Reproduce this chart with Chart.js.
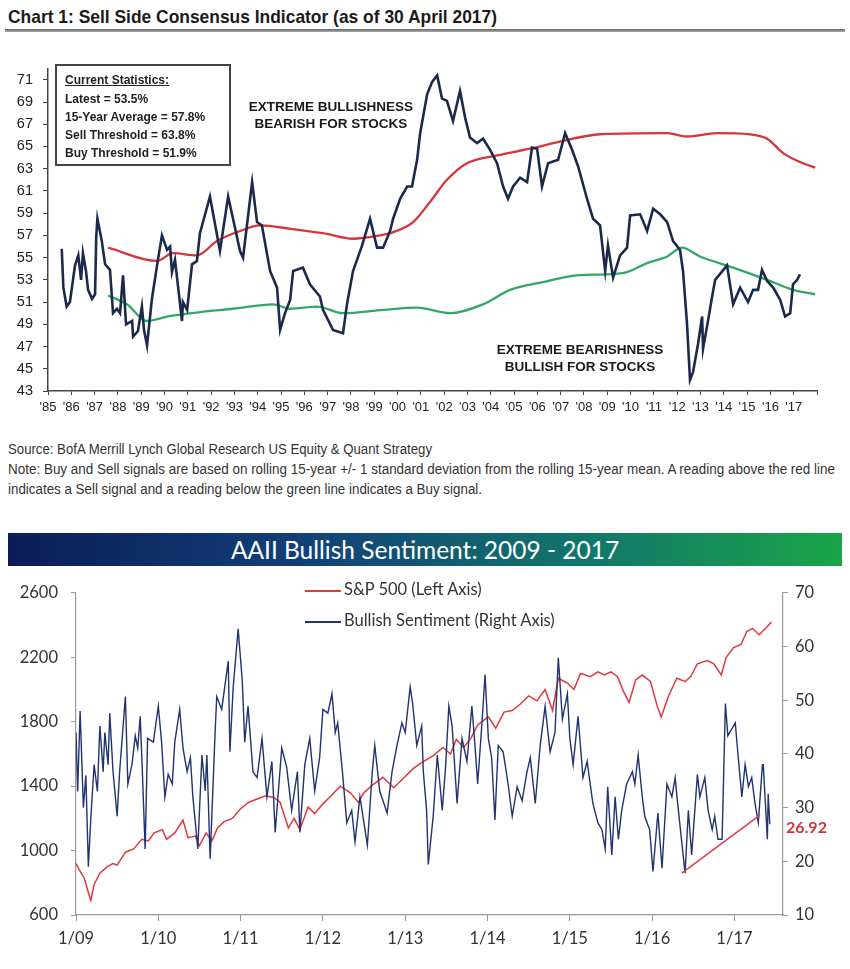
<!DOCTYPE html>
<html><head><meta charset="utf-8">
<script src="https://cdn.jsdelivr.net/npm/chart.js@4.4.0/dist/chart.umd.min.js"></script>
<style>
body{margin:0;background:#fff;width:850px;height:969px;position:relative;overflow:hidden;font-family:"Liberation Sans",Arial,sans-serif;color:#222;}
.abs{position:absolute;white-space:nowrap;}
.fit{transform-origin:0 0;}
#title{left:8px;top:6px;font-weight:bold;font-size:19px;color:#1a1a1a;}
#rule{left:5px;top:29px;width:840px;height:3px;background:linear-gradient(#666,#aaa);}
#stats{left:55px;top:64px;width:172px;height:98px;border:2px solid #444;font-weight:bold;font-size:12px;color:#222;}
#stats div{position:absolute;left:8px;}
.ann{font-weight:bold;font-size:13.5px;text-align:center;line-height:17px;color:#1a1a1a;}
.note{font-size:14px;color:#333;left:8px;}
#banner{left:8px;top:533px;width:834px;height:33px;background:linear-gradient(to right,#0b1d58 0%,#123f78 35%,#12786a 70%,#1aa448 100%);color:#fff;font-family:Lato,sans-serif;font-size:24.5px;text-align:center;line-height:33px;}
.leg{font-family:Lato,sans-serif;font-size:16.5px;color:#333;}
.legline{height:2px;width:36px;}
</style></head>
<body>
<div id="title" class="abs fit" data-w="489">Chart 1: Sell Side Consensus Indicator (as of 30 April 2017)</div>
<div id="rule" class="abs"></div>

<div class="abs" style="left:0;top:50px;width:850px;height:380px;"><canvas id="c1" width="850" height="380"></canvas></div>

<div id="stats" class="abs">
  <div style="top:7px;text-decoration:underline;">Current Statistics:</div>
  <div style="top:26px;">Latest = 53.5%</div>
  <div style="top:44px;">15-Year Average = 57.8%</div>
  <div style="top:62px;">Sell Threshold = 63.8%</div>
  <div style="top:80px;">Buy Threshold = 51.9%</div>
</div>
<div class="abs ann" style="left:231px;top:98px;width:200px;">EXTREME BULLISHNESS<br>BEARISH FOR STOCKS</div>
<div class="abs ann" style="left:480px;top:341px;width:200px;">EXTREME BEARISHNESS<br>BULLISH FOR STOCKS</div>

<div class="abs note fit" data-w="424" style="top:441px;">Source: BofA Merrill Lynch Global Research US Equity &amp; Quant Strategy</div>
<div class="abs note fit" data-w="827" style="top:461px;">Note: Buy and Sell signals are based on rolling 15-year +/- 1 standard deviation from the rolling 15-year mean. A reading above the red line</div>
<div class="abs note fit" data-w="474" style="top:481px;">indicates a Sell signal and a reading below the green line indicates a Buy signal.</div>

<div id="banner" class="abs">AAII Bullish Sentiment: 2009 - 2017</div>

<div class="abs" style="left:0;top:570px;width:850px;height:390px;"><canvas id="c2" width="850" height="390"></canvas></div>

<div class="abs legline" style="left:305px;top:590px;background:#e0383c;"></div>
<div class="abs leg" style="left:344px;top:579px;">S&amp;P 500 (Left Axis)</div>
<div class="abs legline" style="left:305px;top:621px;background:#1f3470;"></div>
<div class="abs leg" style="left:344px;top:610px;">Bullish Sentiment (Right Axis)</div>
<div class="abs" style="left:786px;top:817px;font-family:Lato,sans-serif;font-weight:bold;font-size:16px;color:#d8303a;">26.92</div>

<script>
document.querySelectorAll('.fit').forEach(el => {
  const w = el.getBoundingClientRect().width;
  el.style.transform = 'scaleX(' + (parseFloat(el.dataset.w) / w) + ')';
});

// ---------- Chart 1: Sell Side Consensus Indicator ----------
const indicatorYears = [1985.59,1985.66,1985.80,1985.94,1986.16,1986.30,1986.42,1986.50,1986.63,1986.72,1986.89,1987.02,1987.07,1987.12,1987.30,1987.45,1987.66,1987.79,1987.96,1988.09,1988.22,1988.35,1988.61,1988.65,1988.86,1989.03,1989.12,1989.25,1989.46,1989.68,1989.89,1990.11,1990.24,1990.32,1990.45,1990.75,1990.79,1990.97,1991.18,1991.39,1991.52,1991.95,1992.38,1992.73,1992.94,1993.24,1993.37,1993.76,1993.97,1994.18,1994.53,1994.83,1994.96,1995.17,1995.39,1995.52,1995.94,1996.24,1996.67,1996.80,1997.23,1997.66,1997.83,1998.09,1998.48,1998.82,1999.12,1999.38,1999.68,1999.81,2000.11,2000.41,2000.62,2000.84,2000.97,2001.27,2001.48,2001.70,2001.91,2002.12,2002.38,2002.68,2002.90,2003.11,2003.41,2003.67,2003.97,2004.27,2004.53,2004.74,2004.96,2005.26,2005.56,2005.77,2005.99,2006.20,2006.46,2006.89,2007.19,2007.49,2007.75,2008.13,2008.39,2008.69,2008.91,2009.03,2009.25,2009.55,2009.85,2009.98,2010.41,2010.71,2010.97,2011.27,2011.57,2011.82,2012.12,2012.25,2012.42,2012.55,2012.68,2012.90,2013.07,2013.11,2013.33,2013.50,2013.63,2014.14,2014.40,2014.70,2015.04,2015.26,2015.47,2015.64,2015.86,2016.12,2016.42,2016.63,2016.85,2016.97,2017.15,2017.27];
const indicatorValues = [55.8,52.3,50.6,51.0,54.3,55.2,53.0,55.4,53.8,52.1,51.3,51.7,56.9,58.5,56.6,54.4,53.9,50.0,50.4,50.0,53.4,49.0,49.3,47.9,48.4,50.6,48.5,47.1,51.3,54.3,57.0,55.7,56.0,53.7,54.8,49.3,51.0,50.3,54.4,54.7,57.2,60.5,55.6,60.5,58.5,55.6,55.0,61.8,58.2,57.9,53.8,52.3,48.5,50.0,51.2,53.8,54.1,52.6,51.5,50.3,48.5,48.2,50.8,53.8,56.1,58.5,55.9,55.9,57.4,58.5,60.3,61.4,61.4,63.8,66.2,69.7,70.8,71.4,69.3,69.1,67.3,70.0,67.6,65.8,65.3,65.7,64.7,63.5,61.4,60.3,61.4,62.2,61.8,64.9,64.8,61.4,63.5,63.8,66.2,64.7,63.2,60.3,58.5,57.9,53.8,56.1,53.2,55.2,55.9,58.8,58.9,57.4,59.4,58.9,58.2,56.5,55.7,53.8,49.1,44.0,44.7,47.3,49.7,46.8,49.4,51.5,53.0,54.3,50.8,52.3,51.0,52.1,52.1,53.9,52.9,52.3,51.2,49.7,50.0,52.6,53.0,53.5];
const sellYears = [1987.58,1989.68,1990.36,1991.39,1992.25,1993.24,1994.10,1995.39,1996.80,1998.09,1999.25,1999.68,2000.67,2001.39,2002.12,2002.98,2004.27,2005.69,2007.10,2008.69,2011.57,2012.42,2013.71,2015.13,2015.86,2016.55,2017.27,2017.92];
const sellValues = [55.9,54.7,55.4,55.2,56.5,57.4,57.9,57.6,57.2,56.7,57.0,57.2,58.2,60.0,62.0,63.5,64.2,64.8,65.5,66.1,66.2,65.9,66.2,66.1,65.7,64.4,63.6,63.1];
const buyYears = [1987.58,1988.39,1989.25,1990.11,1991.52,1992.94,1994.66,1995.39,1996.55,1997.66,1999.38,2000.84,2002.25,2003.67,2004.83,2006.24,2007.70,2008.99,2009.85,2010.71,2011.57,2012.21,2012.98,2014.40,2015.86,2016.97,2017.92];
const buyValues = [51.6,50.8,49.3,49.7,50.1,50.4,50.8,50.4,50.6,50.0,50.3,50.5,50.0,50.8,52.1,52.8,53.4,53.5,53.7,54.5,55.1,55.9,55.1,54.1,53.0,52.1,51.7];
const topTickYears = [1985,1986,1987,1988,1989,1990,1991,1992,1993,1994,1995,1996,1997,1998,1999,2000,2001,2002,2003,2004,2005,2006,2007,2008,2009,2010,2011,2012,2013,2014,2015,2016,2017,2018];
const topTickLabels = ["'85","'86","'87","'88","'89","'90","'91","'92","'93","'94","'95","'96","'97","'98","'99","'00","'01","'02","'03","'04","'05","'06","'07","'08","'09","'10","'11","'12","'13","'14","'15","'16","'17",""];
const topYTicks = [43,45,47,49,51,53,55,57,59,61,63,65,67,69,71];

// ---------- Chart 2: AAII Bullish Sentiment ----------
const spxYears = [2009.00,2009.04,2009.10,2009.15,2009.18,2009.22,2009.29,2009.38,2009.45,2009.50,2009.60,2009.70,2009.80,2009.88,2009.95,2010.05,2010.10,2010.20,2010.30,2010.36,2010.45,2010.50,2010.58,2010.65,2010.72,2010.80,2010.90,2011.00,2011.10,2011.20,2011.30,2011.40,2011.48,2011.58,2011.65,2011.72,2011.82,2011.90,2012.00,2012.10,2012.21,2012.33,2012.43,2012.50,2012.61,2012.73,2012.86,2013.00,2013.10,2013.18,2013.34,2013.46,2013.55,2013.62,2013.71,2013.80,2013.88,2014.01,2014.10,2014.20,2014.30,2014.40,2014.50,2014.60,2014.70,2014.79,2014.86,2014.97,2015.05,2015.13,2015.25,2015.34,2015.42,2015.50,2015.58,2015.65,2015.72,2015.80,2015.88,2015.98,2016.06,2016.11,2016.20,2016.30,2016.40,2016.47,2016.55,2016.67,2016.75,2016.84,2016.90,2016.99,2017.08,2017.15,2017.22,2017.30,2017.38,2017.45];
const spxValues = [920,880,830,740,690,790,860,900,920,910,990,1010,1070,1060,1110,1130,1070,1110,1190,1080,1090,1030,1110,1060,1140,1180,1200,1260,1300,1320,1340,1330,1300,1140,1200,1130,1270,1230,1290,1340,1400,1360,1300,1360,1410,1455,1390,1460,1510,1540,1590,1640,1600,1690,1640,1700,1780,1830,1760,1860,1870,1910,1960,1930,2000,1870,2070,2040,2000,2100,2080,2110,2090,2110,2080,1990,1920,2060,2090,2050,1900,1830,1960,2070,2050,2080,2160,2180,2160,2090,2200,2260,2280,2360,2380,2340,2380,2420];
const bullYears = [2009.00,2009.02,2009.05,2009.09,2009.12,2009.15,2009.18,2009.22,2009.26,2009.29,2009.33,2009.35,2009.39,2009.41,2009.45,2009.50,2009.53,2009.60,2009.63,2009.68,2009.72,2009.75,2009.78,2009.80,2009.84,2009.87,2009.94,2010.00,2010.04,2010.08,2010.12,2010.17,2010.20,2010.26,2010.30,2010.35,2010.39,2010.42,2010.48,2010.53,2010.57,2010.59,2010.63,2010.69,2010.71,2010.77,2010.85,2010.87,2010.91,2010.97,2011.02,2011.05,2011.09,2011.15,2011.20,2011.26,2011.32,2011.38,2011.42,2011.50,2011.56,2011.62,2011.69,2011.72,2011.78,2011.84,2011.90,2011.96,2012.00,2012.06,2012.11,2012.15,2012.18,2012.24,2012.29,2012.35,2012.39,2012.45,2012.54,2012.60,2012.63,2012.69,2012.78,2012.84,2012.90,2012.96,2013.00,2013.06,2013.09,2013.14,2013.20,2013.22,2013.26,2013.28,2013.34,2013.39,2013.45,2013.49,2013.53,2013.57,2013.63,2013.69,2013.75,2013.81,2013.85,2013.88,2013.93,2013.97,2014.01,2014.05,2014.09,2014.13,2014.19,2014.25,2014.30,2014.36,2014.42,2014.48,2014.52,2014.58,2014.64,2014.70,2014.76,2014.82,2014.86,2014.91,2014.97,2015.00,2015.04,2015.10,2015.16,2015.21,2015.28,2015.34,2015.39,2015.43,2015.46,2015.51,2015.55,2015.59,2015.63,2015.69,2015.76,2015.79,2015.83,2015.88,2015.91,2015.97,2016.01,2016.07,2016.12,2016.18,2016.24,2016.28,2016.31,2016.40,2016.44,2016.48,2016.55,2016.58,2016.64,2016.68,2016.73,2016.76,2016.80,2016.85,2016.89,2016.92,2016.97,2017.01,2017.04,2017.09,2017.13,2017.17,2017.21,2017.25,2017.29,2017.34,2017.35,2017.40,2017.41,2017.43];
const bullValues = [44,33,48,30,36,19,28,38,33,45.2,36.7,44.0,38.0,47.6,36.7,28.4,36.7,50.7,34.4,38.0,43.4,41.1,47.0,39.3,22.3,42.9,42.2,48.9,42.2,32.0,36.2,34.4,42.2,48.3,41.1,36.7,39.3,32.0,22.3,39.8,33.1,39.8,20.5,44.0,50.7,48.3,57.3,40.4,52.5,63.3,53.7,42.2,48.9,36.7,35.6,42.9,32.0,38.6,25.4,41.1,37.5,29.5,36.7,25.4,38.0,42.9,33.1,39.3,48.3,47.6,51.2,44.0,45.8,36.2,27.2,29.5,23.6,32.0,23.0,36.7,41.6,33.1,29.0,36.7,41.6,45.8,44.0,52.5,49.4,41.6,45.2,36.7,29.5,19.4,28.4,39.8,29.5,37.5,48.9,45.2,30.8,42.9,38.6,48.9,41.1,34.4,45.2,54.8,42.9,39.3,27.7,41.6,40.4,34.4,28.4,33.9,31.3,36.7,39.3,30.8,41.6,48.9,40.4,44.0,57.9,46.5,51.2,42.9,38.0,47.0,35.6,38.6,30.8,27.2,25.9,22.3,33.9,21.2,32.0,24.1,29.5,34.4,36.7,34.4,39.8,32.0,28.4,25.9,18.1,29.0,18.7,34.4,32.0,35.6,30.8,17.8,29.5,21.2,36.2,32.0,35.6,29.5,25.9,28.4,24.1,24.1,49.4,43.4,44.7,45.8,40.4,32.0,38.0,33.9,35.6,30.8,27.2,38.0,38.0,24.1,32.6,26.92];
const trendYears = [2016.36,2017.31];
const trendValues = [17.8,28.6];
const bottomTickYears = [2009,2010,2011,2012,2013,2014,2015,2016,2017];
const bottomTickLabels = ["1/09","1/10","1/11","1/12","1/13","1/14","1/15","1/16","1/17"];
const leftTicks = [600,1000,1400,1800,2200,2600];
const rightTicks = [10,20,30,40,50,60,70];

const toXY = (xs, ys) => xs.map((x, i) => ({x: x, y: ys[i]}));

new Chart(document.getElementById('c1'), {
  type: 'line',
  data: { datasets: [
    {data: toXY(indicatorYears, indicatorValues), borderColor: '#1b2a4a', borderWidth: 2.6, pointRadius: 0, tension: 0},
    {data: toXY(sellYears, sellValues), borderColor: '#d8333c', borderWidth: 2.3, pointRadius: 0, cubicInterpolationMode: 'monotone'},
    {data: toXY(buyYears, buyValues), borderColor: '#33a865', borderWidth: 2.3, pointRadius: 0, cubicInterpolationMode: 'monotone'}
  ]},
  options: {
    responsive: false, animation: false,
    layout: {padding: {top: 11.6, right: 33, left: 0, bottom: 0}},
    plugins: {legend: {display: false}, tooltip: {enabled: false}},
    scales: {
      x: {
        type: 'linear', min: 1985, max: 2018,
        afterBuildTicks: ax => { ax.ticks = topTickYears.map(v => ({value: v})); },
        afterFit: ax => { ax.height = 39; },
        ticks: {autoSkip: false, maxRotation: 0, padding: 5, color: '#222',
          font: {family: '"Liberation Sans",Arial,sans-serif', size: 13},
          callback: (v) => { const i = topTickYears.indexOf(v); return i >= 0 ? topTickLabels[i] : ''; }},
        grid: {drawOnChartArea: false, tickLength: 4, color: '#444'},
        border: {color: '#444', width: 1.5}
      },
      y: {
        min: 43, max: 72,
        afterBuildTicks: ax => { ax.ticks = topYTicks.map(v => ({value: v})); },
        afterFit: ax => { ax.width = 48; },
        ticks: {padding: 10, color: '#222', font: {family: '"Liberation Sans",Arial,sans-serif', size: 14.5}},
        grid: {drawOnChartArea: false, tickLength: 5, color: '#444'},
        border: {color: '#444', width: 1.5}
      }
    }
  }
});

new Chart(document.getElementById('c2'), {
  type: 'line',
  data: { datasets: [
    {data: toXY(trendYears, trendValues), yAxisID: 'yR', borderColor: '#d8404a', borderWidth: 1.6, pointRadius: 0, tension: 0},
    {data: toXY(bullYears, bullValues), yAxisID: 'yR', borderColor: '#1f3470', borderWidth: 1.4, pointRadius: 0, tension: 0},
    {data: toXY(spxYears, spxValues), yAxisID: 'yL', borderColor: '#e0383c', borderWidth: 1.5, pointRadius: 0, tension: 0}
  ]},
  options: {
    responsive: false, animation: false,
    layout: {padding: {top: 13, right: 0, left: 0, bottom: 0}},
    plugins: {legend: {display: false}, tooltip: {enabled: false}},
    scales: {
      x: {
        type: 'linear', min: 2009, max: 2017.59,
        afterBuildTicks: ax => { ax.ticks = bottomTickYears.map(v => ({value: v})); },
        afterFit: ax => { ax.height = 45; },
        ticks: {autoSkip: false, maxRotation: 0, padding: 8, color: '#333',
          font: {family: 'Lato,sans-serif', size: 16.5},
          callback: (v) => { const i = bottomTickYears.indexOf(v); return i >= 0 ? bottomTickLabels[i] : ''; }},
        grid: {drawOnChartArea: false, tickLength: 6, color: '#999'},
        border: {color: '#999', width: 1.2}
      },
      yL: {
        position: 'left', min: 600, max: 2600,
        afterBuildTicks: ax => { ax.ticks = leftTicks.map(v => ({value: v})); },
        afterFit: ax => { ax.width = 76; },
        ticks: {padding: 13, color: '#333', font: {family: 'Lato,sans-serif', size: 16.5}, callback: v => String(v)},
        grid: {drawOnChartArea: false, tickLength: 5, color: '#999'},
        border: {color: '#999', width: 1.2}
      },
      yR: {
        position: 'right', min: 10, max: 70,
        afterBuildTicks: ax => { ax.ticks = rightTicks.map(v => ({value: v})); },
        afterFit: ax => { ax.width = 67; },
        ticks: {padding: 7, color: '#333', font: {family: 'Lato,sans-serif', size: 16.5}, callback: v => String(v)},
        grid: {drawOnChartArea: false, tickLength: 5, color: '#999'},
        border: {color: '#999', width: 1.2}
      }
    }
  }
});
</script>
</body></html>
